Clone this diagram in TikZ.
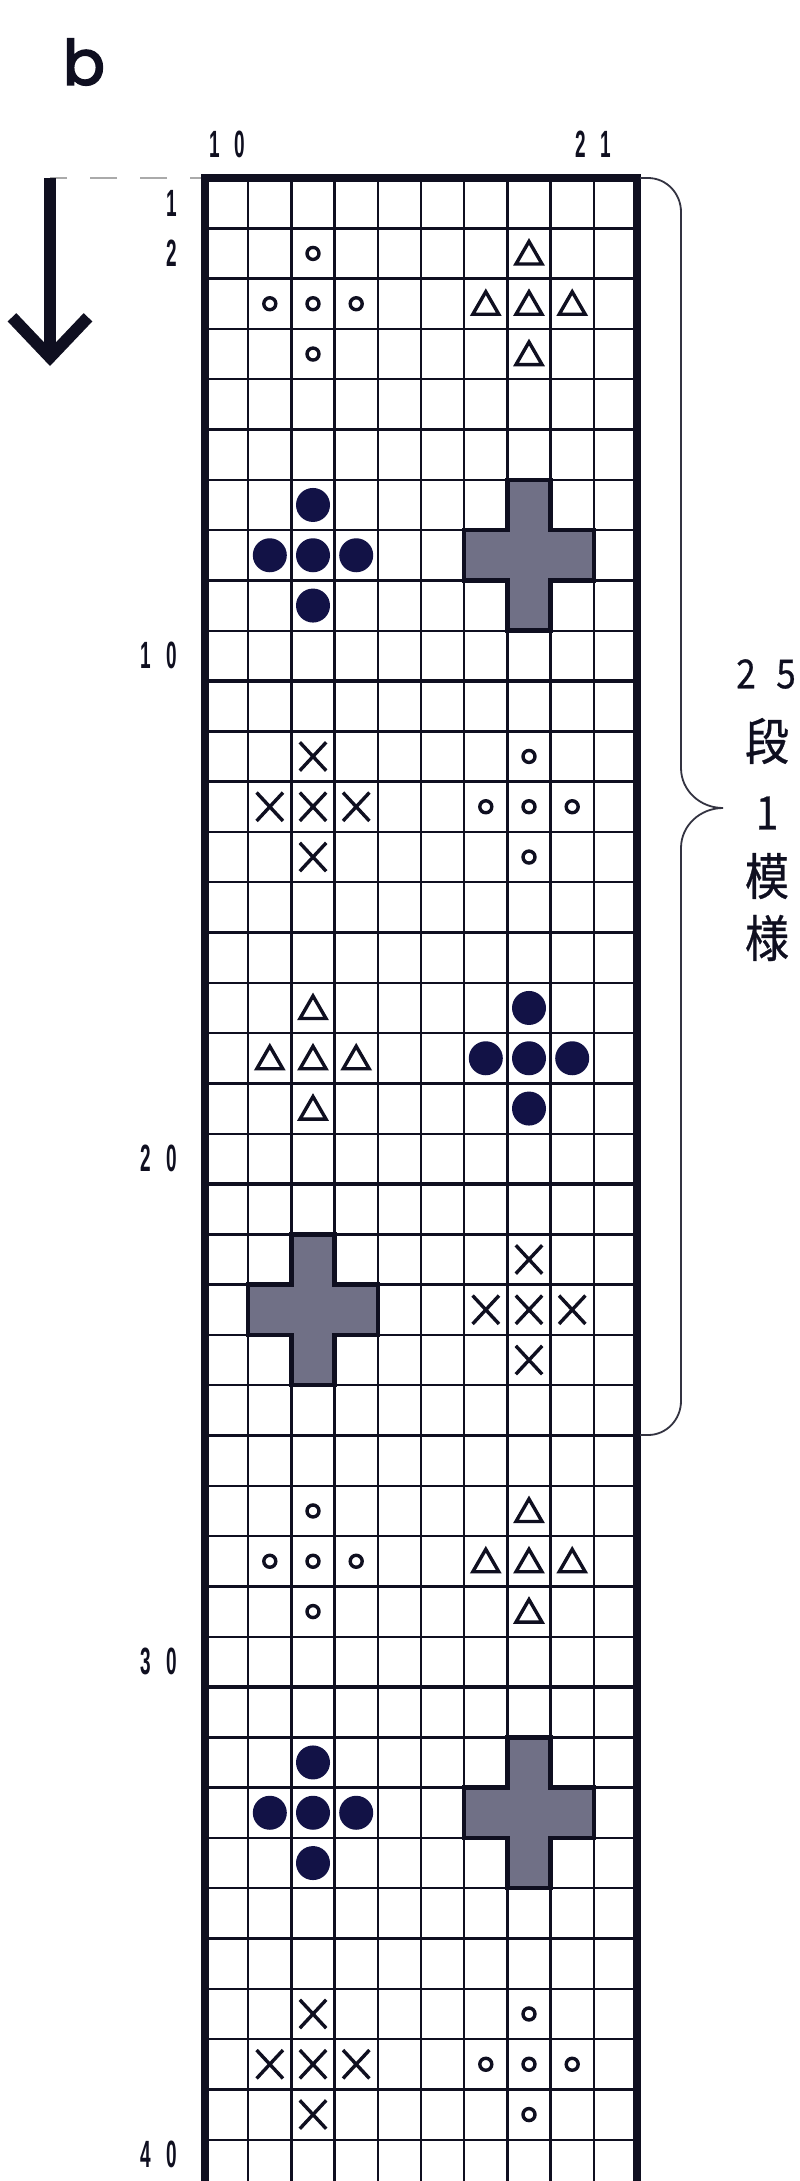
\documentclass[tikz,border=0pt]{standalone}
\usepackage{fontspec}
\setmainfont{Liberation Sans}
\newfontfamily\numfont[FakeStretch=0.5, WordSpace=2.8]{Liberation Sans Bold}
\newfontfamily\jpfont[FakeStretch=0.88, WordSpace=2.6, FakeBold=0.6]{Noto Sans CJK JP}
\newfontfamily\titlefont[FakeBold=3]{Poppins}
\usepackage{xcolor}
\usetikzlibrary{positioning, arrows.meta, shapes.geometric, shapes.misc}

\definecolor{ink}{RGB}{15,15,32}
\definecolor{dotblue}{RGB}{18,18,70}
\definecolor{crossgray}{RGB}{112,112,134}
\definecolor{dashgray}{RGB}{170,170,170}

% five marks in a plus shape, top cell at (col, row)
\newcommand{\plusmarks}[4]{%
  \node[#1] (#2t) at ({#3-.5},{#4-.5}) {};
  \node[#1] (#2l) at ({#3-1.5},{#4+.5}) {};
  \node[#1] (#2c) at ({#3-.5},{#4+.5}) {};
  \node[#1] (#2r) at ({#3+.5},{#4+.5}) {};
  \node[#1] (#2b) at ({#3-.5},{#4+1.5}) {};
}
% shaded plus, top cell at (col, row)
\newcommand{\grayplus}[2]{%
  \draw[plusfill] ({#1-1},{#2-1}) -- ++(1,0) -- ++(0,1) -- ++(1,0) -- ++(0,1)
    -- ++(-1,0) -- ++(0,1) -- ++(-1,0) -- ++(0,-1) -- ++(-1,0) -- ++(0,-1)
    -- ++(1,0) -- cycle;
}

\begin{document}
\begin{tikzpicture}[
  x=1pt, y=-1pt,
  thinline/.style={line width=2.4pt, color=ink},
  sepline/.style={line width=4.5pt, color=ink},
  border/.style={line width=7.5pt, color=ink, line cap=rect},
  ring/.style={circle, draw=ink, line width=3.4pt, minimum size=12pt, inner sep=0pt},
  dot/.style={circle, fill=dotblue, minimum size=34pt, inner sep=0pt},
  tri/.style={regular polygon, regular polygon sides=3, draw=ink, line width=3.4pt,
              minimum size=30pt, inner sep=0pt, yshift=-3pt},
  xmark/.style={cross out, draw=ink, line width=3.4pt, minimum width=23pt,
                minimum height=25pt, inner sep=0pt},
  plusfill/.style={fill=crossgray, draw=ink, line width=4.5pt},
  numlabel/.style={font=\numfont\fontsize{38pt}{38pt}\selectfont, inner sep=0pt, text=ink},
  jplabel/.style={font=\jpfont\fontsize{50pt}{50pt}\selectfont, inner sep=0pt, text=ink},
  bracket/.style={line width=1.8pt, color=ink!85},
  downarrow/.style={line width=12pt, color=ink, -{Straight Barb[length=40pt, width=76pt]}},
  dashline/.style={line width=2.5pt, color=dashgray, dash pattern=on 27pt off 23pt, dash phase=12pt}
]
  \useasboundingbox (0,0) rectangle (800,2181);
  \fill[white] (0,0) rectangle (800,2181);

  % --- title and direction arrow ---
  \node[font=\titlefont\fontsize{62pt}{62pt}\selectfont, inner sep=0pt, text=ink] (title) at (84,62) {b};
  \coordinate (arrtop) at (50,178);
  \coordinate (arrtip) at (50,366);
  \coordinate (gridtl) at (205,178);
  \draw[dashline] (gridtl) -- (arrtop);
  \draw[downarrow] (arrtop) -- (arrtip);

  % --- column numbers ---
  \node[numlabel] (col10) at (227,144) {1 0};
  \node[numlabel] (col21) at (593,144) {2 1};

  % --- chart ---
  \begin{scope}[shift={(205,178)}, x=43.2pt, y=-50.3pt]
    \foreach \c in {1,...,9} \draw[thinline] (\c,0) -- (\c,40.3);
    \foreach \r in {1,...,40} \draw[thinline] (0,\r) -- (10,\r);
    \foreach \r in {10,20,30} \draw[sepline] (0,\r) -- (10,\r);
    \draw[border] (0,40.3) -- (0,0) -- (10,0) -- (10,40.3);

    % row numbers
    \node[numlabel, anchor=east] (row1)  at (-0.65,0.5)  {1};
    \node[numlabel, anchor=east] (row2)  at (-0.65,1.5)  {2};
    \node[numlabel, anchor=east] (row10) at (-0.65,9.5)  {1 0};
    \node[numlabel, anchor=east] (row20) at (-0.65,19.5) {2 0};
    \node[numlabel, anchor=east] (row30) at (-0.65,29.5) {3 0};
    \node[numlabel, anchor=east] (row40) at (-0.65,39.3) {4 0};

    % left motifs
    \plusmarks{ring}{ringA}{3}{2}
    \plusmarks{dot}{dotA}{3}{7}
    \plusmarks{xmark}{crossA}{3}{12}
    \plusmarks{tri}{triA}{3}{17}
    \grayplus{3}{22}
    \plusmarks{ring}{ringB}{3}{27}
    \plusmarks{dot}{dotB}{3}{32}
    \plusmarks{xmark}{crossB}{3}{37}

    % right motifs
    \plusmarks{tri}{triB}{8}{2}
    \grayplus{8}{7}
    \plusmarks{ring}{ringC}{8}{12}
    \plusmarks{dot}{dotC}{8}{17}
    \plusmarks{xmark}{crossC}{8}{22}
    \plusmarks{tri}{triC}{8}{27}
    \grayplus{8}{32}
    \plusmarks{ring}{ringD}{8}{37}
  \end{scope}

  % --- repeat bracket (rows 1-25) ---
  \coordinate (bracetop) at (640,178);
  \coordinate (bracetip) at (723,808);
  \coordinate (bracebot) at (640,1435);
  \draw[bracket] (bracetop) -- (648,178) to[out=0,in=90] (681,212) -- (681,768)
    to[out=-90,in=180] (bracetip) to[out=180,in=90] (681,848) -- (681,1401)
    to[out=-90,in=0] (648,1435) -- (bracebot);

  \node[jplabel, font=\jpfont\fontsize{40pt}{40pt}\selectfont] (rep25) at (766,674) {2 5};
  \node[jplabel] (dan) at (767,741) {段};
  \node[jplabel, font=\jpfont\fontsize{46pt}{46pt}\selectfont] (one) at (767,813) {1};
  \node[jplabel] (mo)  at (767,876) {模};
  \node[jplabel] (yo)  at (767,938) {様};
\end{tikzpicture}
\end{document}
